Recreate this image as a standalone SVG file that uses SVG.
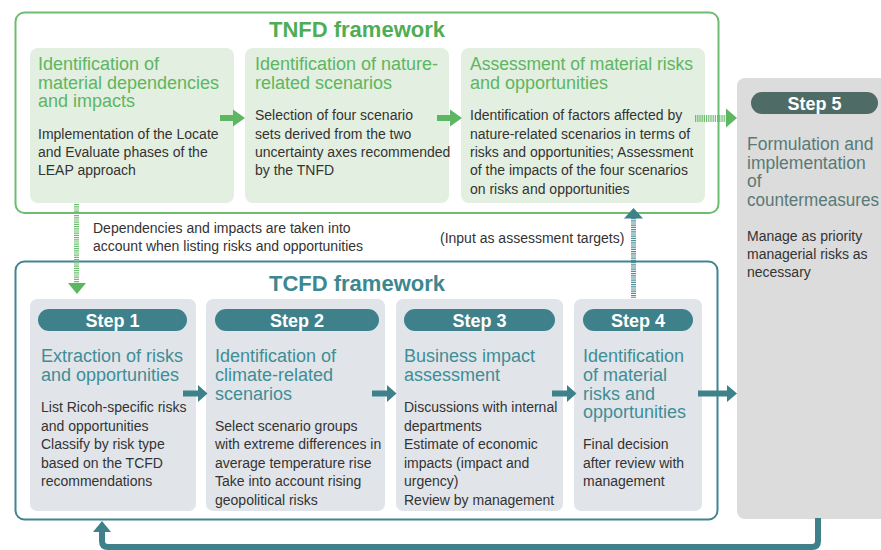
<svg xmlns="http://www.w3.org/2000/svg" width="881" height="550" viewBox="0 0 881 550">
  <style>
    text { font-family: "Liberation Sans", Arial, sans-serif; }
    .frame-title { font-size: 22px; font-weight: bold; text-anchor: middle; }
    .tnfd-title { fill: #4fae55; }
    .tcfd-title { fill: #3d8790; }
    .card-g { fill: #e3efe0; }
    .card-t { fill: #e1e5e9; }
    .head-g { font-size: 18px; fill: #5db662; }
    .head-t { font-size: 18px; fill: #3f8d97; }
    .head-5 { font-size: 17.5px; fill: #587a76; }
    .body { font-size: 14px; fill: #333333; }
    .pill { fill: #3f818b; }
    .pill-label { font-size: 18px; font-weight: bold; fill: #ffffff; text-anchor: middle; }
    .arrow-g { fill: #5db662; }
    .arrow-t { fill: #3f818b; }
  </style>

  <rect width="881" height="550" fill="#ffffff"/>

  <!-- TNFD framework -->
  <g id="tnfd-frame">
    <rect x="15.5" y="12.5" width="703" height="200.5" rx="9" fill="none" stroke="#6cbd6f" stroke-width="2"/>
    <text class="frame-title tnfd-title" x="357" y="37">TNFD framework</text>
  </g>

  <g id="tnfd-dependencies">
    <rect class="card-g" x="30" y="48" width="204" height="155" rx="8"/>
    <text class="head-g" x="38"><tspan x="38" y="70">Identification of</tspan><tspan x="38" y="88.5">material dependencies</tspan><tspan x="38" y="107">and impacts</tspan></text>
    <text class="body"><tspan x="38" y="139">Implementation of the Locate</tspan><tspan x="38" y="157">and Evaluate phases of the</tspan><tspan x="38" y="175">LEAP approach</tspan></text>
  </g>

  <g id="tnfd-scenarios">
    <rect class="card-g" x="245" y="48" width="204" height="155" rx="8"/>
    <text class="head-g"><tspan x="255" y="70">Identification of nature-</tspan><tspan x="255" y="88.5">related scenarios</tspan></text>
    <text class="body"><tspan x="255" y="120">Selection of four scenario</tspan><tspan x="255" y="138.5">sets derived from the two</tspan><tspan x="255" y="157">uncertainty axes recommended</tspan><tspan x="255" y="175">by the TNFD</tspan></text>
  </g>

  <g id="tnfd-assessment">
    <rect class="card-g" x="461" y="48" width="244" height="155" rx="8"/>
    <text class="head-g"><tspan x="470" y="70" textLength="223" lengthAdjust="spacingAndGlyphs">Assessment of material risks</tspan><tspan x="470" y="88.5">and opportunities</tspan></text>
    <text class="body"><tspan x="470" y="120">Identification of factors affected by</tspan><tspan x="470" y="138.5">nature-related scenarios in terms of</tspan><tspan x="470" y="157">risks and opportunities; Assessment</tspan><tspan x="470" y="175">of the impacts of the four scenarios</tspan><tspan x="470" y="193.5">on risks and opportunities</tspan></text>
  </g>

  <!-- TCFD framework -->
  <g id="tcfd-frame">
    <rect x="15.5" y="261.5" width="702" height="258" rx="9" fill="none" stroke="#3f858f" stroke-width="2"/>
    <text class="frame-title tcfd-title" x="357" y="290.5">TCFD framework</text>
  </g>

  <g id="step-1">
    <rect class="card-t" x="30" y="299" width="166" height="212" rx="7"/>
    <rect class="pill" x="38" y="309" width="149" height="22" rx="11"/>
    <text class="pill-label" x="112.5" y="326.5">Step 1</text>
    <text class="head-t"><tspan x="41" y="362">Extraction of risks</tspan><tspan x="41" y="381">and opportunities</tspan></text>
    <text class="body"><tspan x="41" y="412">List Ricoh-specific risks</tspan><tspan x="41" y="430.5">and opportunities</tspan><tspan x="41" y="449">Classify by risk type</tspan><tspan x="41" y="467.5">based on the TCFD</tspan><tspan x="41" y="486">recommendations</tspan></text>
  </g>

  <g id="step-2">
    <rect class="card-t" x="206" y="299" width="179" height="212" rx="7"/>
    <rect class="pill" x="215" y="309" width="164" height="22" rx="11"/>
    <text class="pill-label" x="297" y="326.5">Step 2</text>
    <text class="head-t"><tspan x="215" y="362">Identification of</tspan><tspan x="215" y="381">climate-related</tspan><tspan x="215" y="399.5">scenarios</tspan></text>
    <text class="body"><tspan x="215" y="430.5">Select scenario groups</tspan><tspan x="215" y="449">with extreme differences in</tspan><tspan x="215" y="467.5">average temperature rise</tspan><tspan x="215" y="486">Take into account rising</tspan><tspan x="215" y="504.5">geopolitical risks</tspan></text>
  </g>

  <g id="step-3">
    <rect class="card-t" x="396" y="299" width="167" height="212" rx="7"/>
    <rect class="pill" x="404" y="309" width="151" height="22" rx="11"/>
    <text class="pill-label" x="479.5" y="326.5">Step 3</text>
    <text class="head-t"><tspan x="404" y="362">Business impact</tspan><tspan x="404" y="381">assessment</tspan></text>
    <text class="body"><tspan x="404" y="412">Discussions with internal</tspan><tspan x="404" y="430.5">departments</tspan><tspan x="404" y="449">Estimate of economic</tspan><tspan x="404" y="467.5">impacts (impact and</tspan><tspan x="404" y="486">urgency)</tspan><tspan x="404" y="504.5">Review by management</tspan></text>
  </g>

  <g id="step-4">
    <rect class="card-t" x="574" y="299" width="128" height="212" rx="7"/>
    <rect class="pill" x="583" y="309" width="110" height="22" rx="11"/>
    <text class="pill-label" x="638" y="326.5">Step 4</text>
    <text class="head-t"><tspan x="583" y="362">Identification</tspan><tspan x="583" y="381">of material</tspan><tspan x="583" y="399.5">risks and</tspan><tspan x="583" y="418">opportunities</tspan></text>
    <text class="body"><tspan x="583" y="449">Final decision</tspan><tspan x="583" y="467.5">after review with</tspan><tspan x="583" y="486">management</tspan></text>
  </g>

  <g id="step-5">
    <rect x="737" y="78" width="160" height="441" rx="8" fill="#dcdcdc"/>
    <rect x="751" y="92" width="127" height="22" rx="11" fill="#4e6b66"/>
    <text class="pill-label" x="814.5" y="109.5">Step 5</text>
    <text class="head-5"><tspan x="747" y="150">Formulation and</tspan><tspan x="747" y="168.5">implementation</tspan><tspan x="747" y="187">of</tspan><tspan x="747" y="205.5" textLength="132" lengthAdjust="spacingAndGlyphs">countermeasures</tspan></text>
    <text class="body"><tspan x="747" y="241">Manage as priority</tspan><tspan x="747" y="259">managerial risks as</tspan><tspan x="747" y="277">necessary</tspan></text>
  </g>

  <!-- notes beside the links between the two frameworks -->
  <g id="notes">
    <text class="body"><tspan x="93" y="233">Dependencies and impacts are taken into</tspan><tspan x="93" y="251">account when listing risks and opportunities</tspan></text>
    <text class="body" x="440" y="243">(Input as assessment targets)</text>
  </g>

  <g id="connectors">
    <!-- TNFD flow -->
    <polygon class="arrow-g" points="220,115 233,115 233,109.5 245,118 233,126.5 233,121 220,121"/>
    <polygon class="arrow-g" points="437,115 450,115 450,109.5 462,118 450,126.5 450,121 437,121"/>
    <!-- TNFD assessment to Step 5 (hatched) -->
    <line x1="695" y1="118.5" x2="726" y2="118.5" stroke="#6cbd6f" stroke-width="7" stroke-dasharray="1.2 1"/>
    <polygon class="arrow-g" points="726,108.5 737,118 726,127.5"/>
    <!-- TNFD dependencies down to Step 1 (hatched) -->
    <line x1="76.5" y1="204" x2="76.5" y2="283" stroke="#6cbd6f" stroke-width="5" stroke-dasharray="1.2 1"/>
    <polygon class="arrow-g" points="68,283 86,283 77,294"/>
    <!-- Step 4 up to TNFD assessment (hatched) -->
    <line x1="633.5" y1="218" x2="633.5" y2="298" stroke="#4f8e97" stroke-width="5" stroke-dasharray="1.2 1"/>
    <polygon class="arrow-t" points="624,218.5 643,218.5 633.5,208"/>
    <!-- TCFD flow -->
    <polygon class="arrow-t" points="183,390.5 198,390.5 198,385 207.5,393.5 198,402 198,396.5 183,396.5"/>
    <polygon class="arrow-t" points="372,390.5 387,390.5 387,385 396.5,393.5 387,402 387,396.5 372,396.5"/>
    <polygon class="arrow-t" points="552,390.5 567,390.5 567,385 576.5,393.5 567,402 567,396.5 552,396.5"/>
    <polygon class="arrow-t" points="698,390.5 727,390.5 727,385 737,393.5 727,402 727,396.5 698,396.5"/>
    <!-- feedback loop from Step 5 back to the TCFD framework -->
    <path d="M818 518 V541 Q818 547 812 547 H108 Q102 547 102 541 V531" fill="none" stroke="#3f818b" stroke-width="6"/>
    <polygon class="arrow-t" points="93,532 111,532 102,521"/>
  </g>
</svg>
